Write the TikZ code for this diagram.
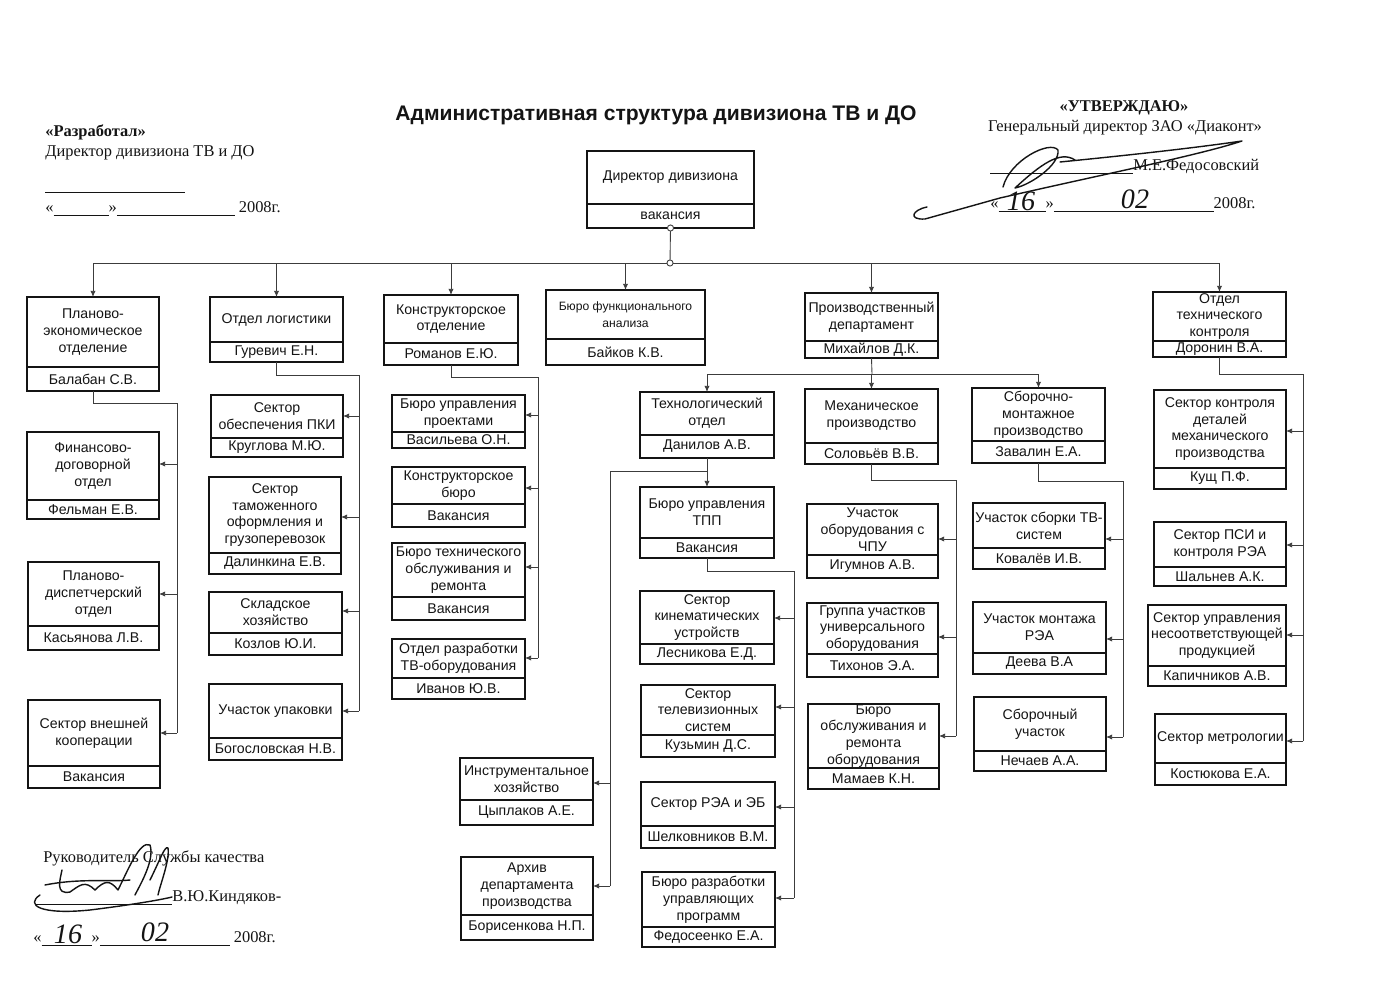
\documentclass[tikz,border=0pt]{standalone}
\usepackage{fontspec}
\setmainfont{Liberation Sans}
\newfontfamily\docserif{Liberation Serif}
\usetikzlibrary{arrows.meta}
\definecolor{ink}{RGB}{20,20,20}
\definecolor{linegray}{RGB}{60,60,60}
\newcommand\unitfont{\fontsize{8.05}{9.6}\selectfont}
\newcommand\smallunitfont{\fontsize{6.9}{8}\selectfont}
% two-part box: name, x-left, y-top, y-divider, x-right, y-bottom, title, person
\newcommand\orgunit[8]{%
  \node[frame,minimum width={(#5-#2)*0.02cm},minimum height={(#4-#3)*0.02cm}]
    (#1) at ({(#2+#5)/2},{(#3+#4)/2}) {};
  \node[frame,minimum width={(#5-#2)*0.02cm},minimum height={(#6-#4)*0.02cm}]
    (#1n) at ({(#2+#5)/2},{(#4+#6)/2}) {};
  \node[txt] (#1t) at (#1.center) {#7};
  \node[txt] (#1p) at (#1n.center) {#8};
}

\begin{document}
\begin{tikzpicture}[x=0.02cm,y=-0.02cm,
  frame/.style={draw=ink,line width=1.1pt,inner sep=0pt,outer sep=0pt},
  txt/.style={font=\unitfont,align=center,inner sep=0pt,text=ink},
  hdr/.style={font=\docserif\fontsize{9.35}{11}\selectfont,inner sep=0pt,text=ink},
  hand/.style={font=\docserif\itshape\fontsize{16}{16}\selectfont,inner sep=0pt,text=ink},
  ttl/.style={font=\fontsize{12}{14}\selectfont\bfseries,inner sep=0pt,text=ink},
  wire/.style={draw=linegray,line width=0.5pt},
  arr/.style={wire,-{Latex[length=3.5pt,width=3pt]}},
  dot/.style={circle,draw=linegray,fill=white,line width=0.5pt,inner sep=0pt,minimum size=3.5pt},
  sig/.style={draw=ink,line width=0.8pt,line cap=round,line join=round}]
  \fill[white] (0,0) rectangle (1384,1001);
  \useasboundingbox (0,0) rectangle (1384,1001);

  % headers
  \node[ttl] (title) at (656,115) {Административная структура дивизиона ТВ и ДО};
  \node[hdr,anchor=base west] (dev) at (45,136) {\bfseries«Разработал»};
  \node[hdr,anchor=base west] (devpos) at (45,156) {Директор дивизиона ТВ и ДО};
  \node[hdr,anchor=base west] (devline) at (45,193) {\rule{2.8cm}{0.4pt}};
  \node[hdr,anchor=base west] (devdate) at (45,212)
    {«\rule[-2pt]{1.1cm}{0.4pt}»\rule[-2pt]{2.36cm}{0.4pt} 2008г.};
  \node[hdr] (appr) at (1124,108) {\bfseries«УТВЕРЖДАЮ»};
  \node[hdr] (apprpos) at (1125,128) {Генеральный директор ЗАО «Диаконт»};
  \node[hdr,anchor=base west] (apprname) at (990,170)
    {\rule[-2pt]{2.86cm}{0.4pt}М.Е.Федосовский};
  \node[hdr,anchor=base west] (apprdate) at (990,208)
    {«\rule[-2pt]{0.94cm}{0.4pt}»\rule[-2pt]{3.2cm}{0.4pt}2008г.};
  \node[hand] (apprday) at (1021,201) {16};
  \node[hand] (apprmon) at (1135,199) {02};
  \node[hdr,anchor=base west] (qm) at (43,862) {Руководитель Службы качества};
  \node[hdr,anchor=base west] (qmname) at (35,901)
    {\rule[-2pt]{2.74cm}{0.4pt}В.Ю.Киндяков-};
  \node[hdr,anchor=base west] (qmdate) at (33,942)
    {«\rule[-2pt]{1cm}{0.4pt}»\rule[-2pt]{2.6cm}{0.4pt} 2008г.};
  \node[hand] (qmday) at (68,934) {16};
  \node[hand] (qmmon) at (155,932) {02};

  % signatures
  \draw[sig] (927,207) .. controls (912,210) and (908,220) .. (925,219)
    -- (1000,198) .. controls (1100,175) and (1200,155) .. (1242,141)
    .. controls (1180,150) and (1100,158) .. (1060,162);
  \draw[sig] (1003,187) .. controls (1010,160) and (1050,140) .. (1058,150)
    .. controls (1060,165) and (1030,185) .. (1015,188)
    .. controls (1040,165) and (1060,150) .. (1075,160);
  \draw[sig] (45,885) .. controls (80,878) and (110,882) .. (130,880);
  \draw[sig] (40,895) .. controls (25,905) and (40,915) .. (90,910)
    .. controls (130,905) and (160,900) .. (172,897);
  \draw[sig] (62,870) .. controls (60,880) and (55,895) .. (70,892)
    .. controls (80,885) and (85,880) .. (95,890)
    .. controls (105,880) and (110,880) .. (118,890)
    .. controls (128,870) and (140,840) .. (150,845)
    .. controls (155,860) and (140,885) .. (135,895);
  \draw[sig] (150,880) .. controls (160,860) and (165,845) .. (168,848)
    .. controls (170,860) and (160,885) .. (158,895);

  % director and first level
  \orgunit{dir}{587}{151}{204}{754}{228}{Директор дивизиона}{вакансия}
  \orgunit{pe}{27}{297}{367}{159}{391}{Планово-\\экономическое\\отделение}{Балабан С.В.}
  \orgunit{log}{210}{297}{342}{343}{362}{Отдел логистики}{Гуревич Е.Н.}
  \orgunit{ko}{384}{295}{343}{518}{365}{Конструкторское\\отделение}{Романов Е.Ю.}
  \orgunit{bfa}{546}{290}{339}{705}{365}{\smallunitfont Бюро функционального\\\smallunitfont анализа}{Байков К.В.}
  \orgunit{pd}{805}{293}{341}{938}{358}{Производственный\\департамент}{Михайлов Д.К.}
  \orgunit{otk}{1153}{292}{341}{1286}{357}{Отдел\\технического\\контроля}{Доронин В.А.}

  % planning
  \orgunit{fd}{27}{432}{500}{159}{519}{Финансово-\\договорной\\отдел}{Фельман Е.В.}
  \orgunit{pdo}{28}{562}{626}{159}{650}{Планово-\\диспетчерский\\отдел}{Касьянова Л.В.}
  \orgunit{svk}{28}{700}{766}{160}{788}{Сектор внешней\\кооперации}{Вакансия}

  % logistics
  \orgunit{pki}{211}{395}{438}{343}{457}{Сектор\\обеспечения ПКИ}{Круглова М.Ю.}
  \orgunit{tam}{209}{477}{553}{341}{574}{Сектор\\таможенного\\оформления и\\грузоперевозок}{Далинкина Е.В.}
  \orgunit{skl}{209}{592}{633}{342}{655}{Складское\\хозяйство}{Козлов Ю.И.}
  \orgunit{upk}{209}{684}{738}{342}{760}{Участок упаковки}{Богословская Н.В.}

  % design
  \orgunit{bup}{392}{395}{432}{525}{448}{Бюро управления\\проектами}{Васильева О.Н.}
  \orgunit{kb}{392}{467}{504}{525}{527}{Конструкторское\\бюро}{Вакансия}
  \orgunit{btor}{392}{543}{597}{525}{620}{Бюро технического\\обслуживания и\\ремонта}{Вакансия}
  \orgunit{ortv}{392}{639}{678}{525}{699}{Отдел разработки\\ТВ-оборудования}{Иванов Ю.В.}

  % production
  \orgunit{to}{640}{392}{435}{774}{458}{Технологический\\отдел}{Данилов А.В.}
  \orgunit{mp}{805}{389}{443}{938}{464}{Механическое\\производство}{Соловьёв В.В.}
  \orgunit{sm}{972}{388}{441}{1105}{463}{Сборочно-\\монтажное\\производство}{Завалин Е.А.}
  \orgunit{tpp}{640}{487}{538}{774}{558}{Бюро управления\\ТПП}{Вакансия}
  \orgunit{kin}{640}{591}{644}{774}{664}{Сектор\\кинематических\\устройств}{Лесникова Е.Д.}
  \orgunit{tvs}{641}{685}{735}{775}{757}{Сектор\\телевизионных\\систем}{Кузьмин Д.С.}
  \orgunit{rea}{641}{782}{826}{775}{848}{Сектор РЭА и ЭБ}{Шелковников В.М.}
  \orgunit{bru}{642}{872}{927}{775}{947}{Бюро разработки\\управляющих\\программ}{Федосеенко Е.А.}
  \orgunit{ins}{460}{758}{800}{593}{825}{Инструментальное\\хозяйство}{Цыплаков А.Е.}
  \orgunit{arh}{461}{857}{915}{593}{940}{Архив\\департамента\\производства}{Борисенкова Н.П.}
  \orgunit{cpu}{807}{504}{555}{938}{578}{Участок\\оборудования с\\ЧПУ}{Игумнов А.В.}
  \orgunit{grp}{807}{603}{654}{938}{677}{Группа участков\\универсального\\оборудования}{Тихонов Э.А.}
  \orgunit{bor}{808}{704}{768}{939}{789}{Бюро\\обслуживания и\\ремонта\\оборудования}{Мамаев К.Н.}
  \orgunit{tvsb}{973}{503}{548}{1105}{569}{Участок сборки ТВ-\\систем}{Ковалёв И.В.}
  \orgunit{mon}{973}{602}{653}{1106}{674}{Участок монтажа\\РЭА}{Деева В.А}
  \orgunit{sbu}{974}{697}{751}{1106}{771}{Сборочный\\участок}{Нечаев А.А.}

  % quality control
  \orgunit{kdm}{1154}{390}{468}{1286}{489}{Сектор контроля\\деталей\\механического\\производства}{Кущ П.Ф.}
  \orgunit{psi}{1154}{522}{567}{1286}{586}{Сектор ПСИ и\\контроля РЭА}{Шальнев А.К.}
  \orgunit{nes}{1148}{605}{666}{1286}{686}{Сектор управления\\несоответствующей\\продукцией}{Капичников А.В.}
  \orgunit{met}{1155}{714}{763}{1286}{785}{Сектор метрологии}{Костюкова Е.А.}

  % top bus
  \coordinate (hub) at (670,263);
  \draw[wire] (dirn.south) -- (hub);
  \draw[wire] (pe.north |- hub) -- (otk.north |- hub);
  \foreach \u in {pe,log,ko,bfa,pd,otk}
    \draw[arr] (\u.north |- hub) -- (\u.north);
  \node[dot] (dirdot) at (dirn.south) {};
  \node[dot] (hubdot) at (hub) {};

  % planning links
  \coordinate (peB) at (177,403);
  \draw[wire] (pen.south) |- (peB) -- (peB |- 0,733);
  \foreach \u/\y in {fd/464,pdo/594,svk/733}
    \draw[arr] (peB |- 0,\y) -- (\u.east |- 0,\y);

  % logistics links
  \coordinate (logB) at (359,375);
  \draw[wire] (logn.south) |- (logB) -- (logB |- 0,711);
  \foreach \u/\y in {pki/416,tam/517,skl/611,upk/711}
    \draw[arr] (logB |- 0,\y) -- (\u.east |- 0,\y);

  % design links
  \coordinate (koB) at (538,377);
  \draw[wire] (kon.south) |- (koB) -- (koB |- 0,658);
  \foreach \u/\y in {bup/415,kb/488,btor/567,ortv/658}
    \draw[arr] (koB |- 0,\y) -- (\u.east |- 0,\y);

  % production links
  \coordinate (pdB) at (872,374);
  \draw[wire] (pdn.south) -- (pdB);
  \draw[wire] (to.north |- pdB) -- (sm.north |- pdB);
  \foreach \u in {to,mp,sm}
    \draw[arr] (\u.north |- pdB) -- (\u.north);

  \coordinate (toB) at (610,471);
  \draw[arr] (ton.south) -- (tpp.north);
  \draw[wire] (ton.south |- toB) -- (toB) -- (toB |- 0,886);
  \foreach \u/\y in {ins/783,arh/886}
    \draw[arr] (toB |- 0,\y) -- (\u.east |- 0,\y);

  \coordinate (tppB) at (794,571);
  \draw[wire] (tppn.south) |- (tppB) -- (tppB |- 0,898);
  \foreach \u/\y in {kin/618,tvs/707,rea/807,bru/898}
    \draw[arr] (tppB |- 0,\y) -- (\u.east |- 0,\y);

  \coordinate (mpB) at (956,480);
  \draw[wire] (mpn.south) |- (mpB) -- (mpB |- 0,736);
  \foreach \u/\y in {cpu/539,grp/637,bor/736}
    \draw[arr] (mpB |- 0,\y) -- (\u.east |- 0,\y);

  \coordinate (smB) at (1123,481);
  \draw[wire] (smn.south) |- (smB) -- (smB |- 0,737);
  \foreach \u/\y in {tvsb/539,mon/639,sbu/737}
    \draw[arr] (smB |- 0,\y) -- (\u.east |- 0,\y);

  % quality control links
  \coordinate (otkB) at (1303,374);
  \draw[wire] (otkn.south) |- (otkB) -- (otkB |- 0,741);
  \foreach \u/\y in {kdm/431,psi/545,nes/635,met/741}
    \draw[arr] (otkB |- 0,\y) -- (\u.east |- 0,\y);
\end{tikzpicture}
\end{document}
